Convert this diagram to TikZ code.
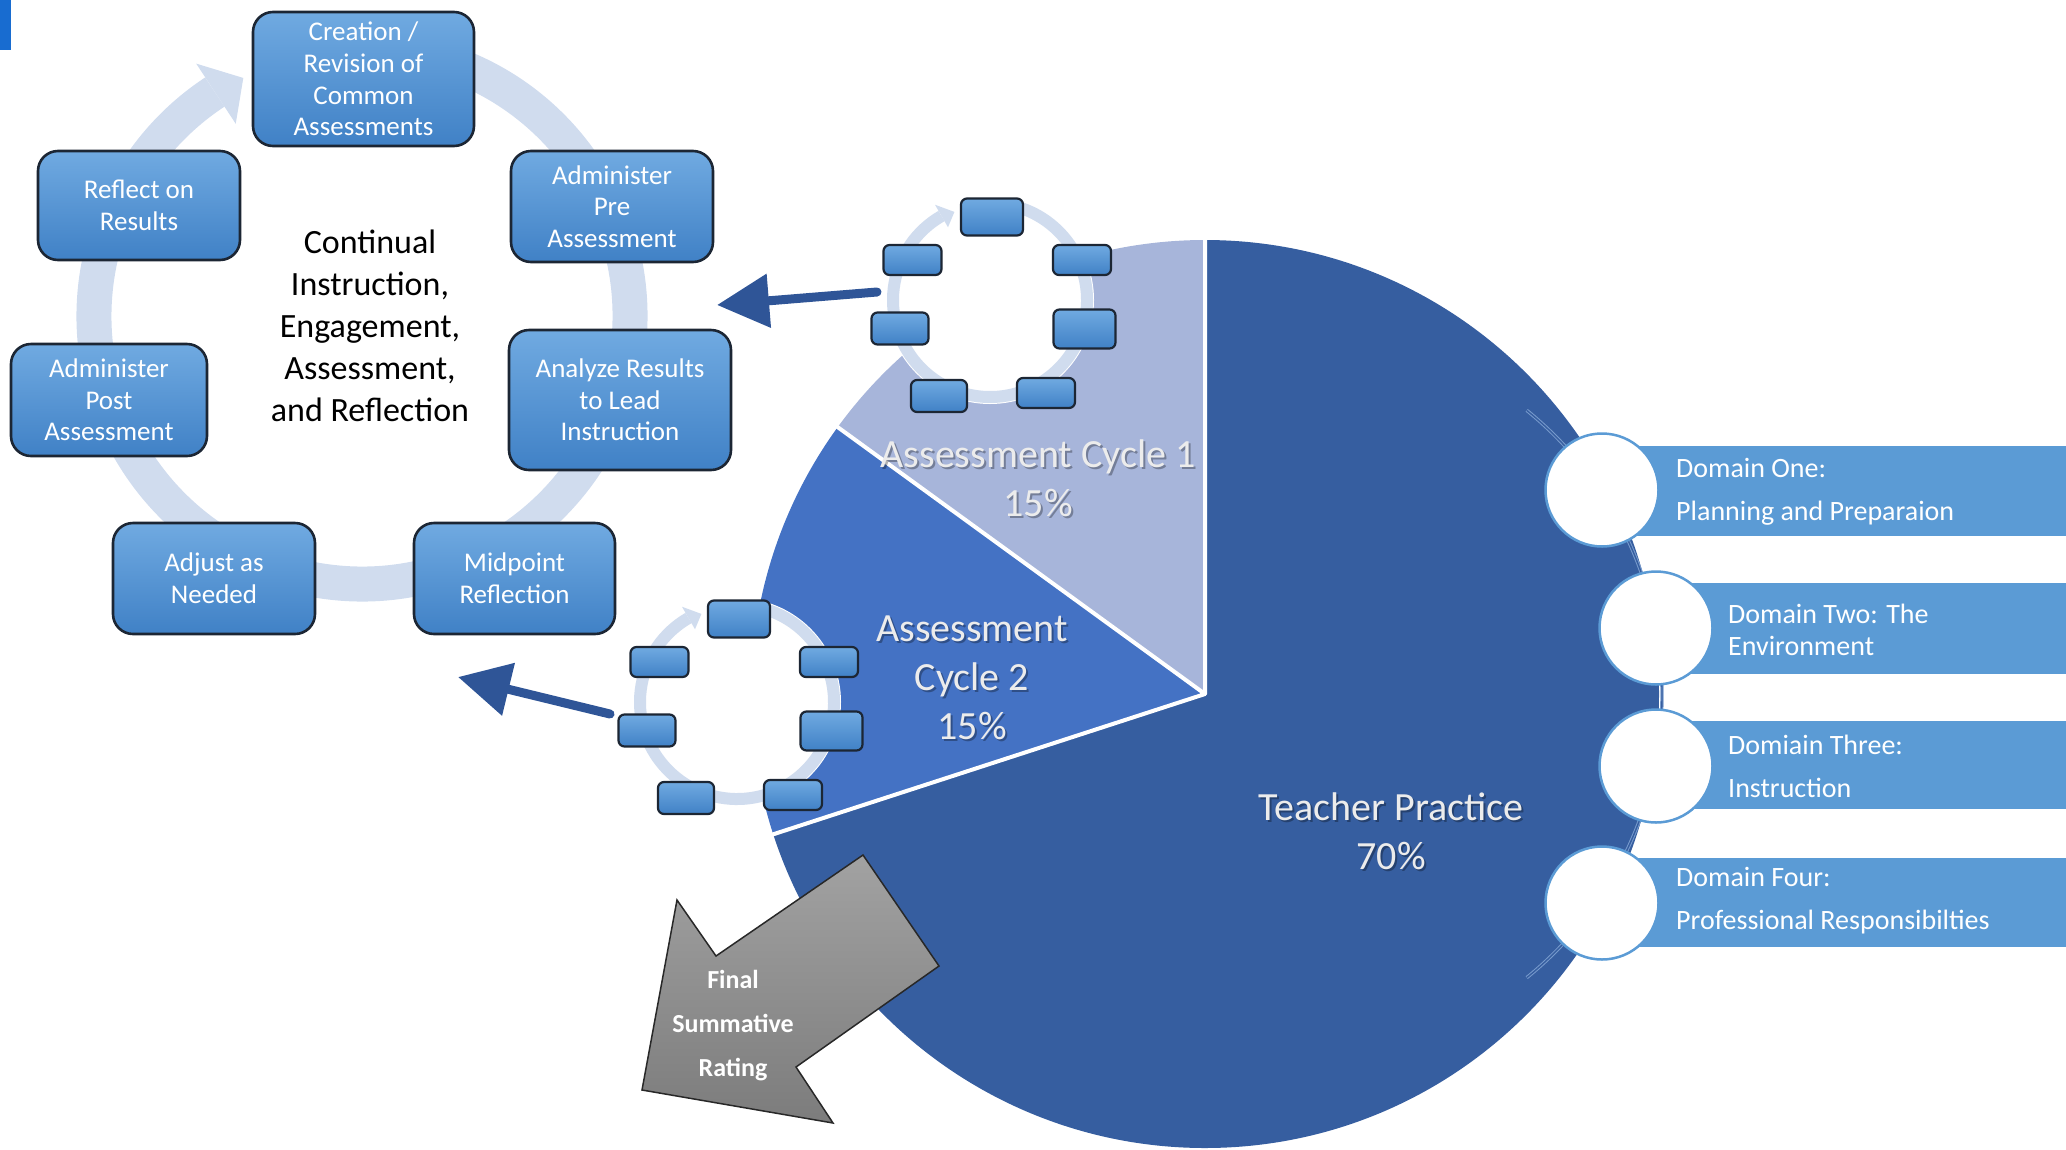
\documentclass[tikz,border=0pt]{standalone}
\usepackage{fontspec}
\setmainfont{Carlito}
\usetikzlibrary{calc,arrows.meta}
\definecolor{piedark}{RGB}{54,94,160}
\definecolor{piemid}{RGB}{68,114,196}
\definecolor{pielight}{RGB}{167,181,218}
\definecolor{boxtop}{RGB}{112,170,225}
\definecolor{boxbot}{RGB}{64,129,198}
\definecolor{boxline}{RGB}{28,38,52}
\definecolor{ringc}{RGB}{208,220,238}
\definecolor{arrowc}{RGB}{47,85,151}
\definecolor{barc}{RGB}{91,155,213}
\definecolor{pietext}{RGB}{236,236,236}
\definecolor{cornerblue}{RGB}{24,108,208}
\definecolor{graytop}{RGB}{162,162,162}
\definecolor{graybot}{RGB}{124,124,124}
\definecolor{grayline}{RGB}{40,40,40}
\definecolor{faintarc}{RGB}{120,155,205}
\begin{document}
\begin{tikzpicture}[x=1pt,y=-1pt,
  bigbox/.style={draw=boxline, line width=2.6pt, rounded corners=20pt, top color=boxtop, bottom color=boxbot, text=white, align=center, inner sep=0pt, font=\fontsize{27}{31.6}\selectfont},
  smallbox/.style={draw=boxline, line width=2.2pt, rounded corners=6pt, top color=boxtop, bottom color=boxbot, inner sep=0pt},
  pielabel/.style={text=pietext, align=center, font=\fontsize{40}{49}\selectfont},
  pieshadow/.style={text=black, opacity=0.3, align=center, font=\fontsize{40}{49}\selectfont},
  domaincircle/.style={circle, fill=white, draw=barc, line width=2.5pt, minimum size=113pt, inner sep=0pt},
  domaintext/.style={text=white, align=left, anchor=west, inner sep=0pt, font=\fontsize{28}{43}\selectfont},
  ringband/.style={draw=ringc, line width=35pt},
  smallring/.style={draw=ringc, line width=12pt},
  bigarrow/.style={draw=arrowc, line width=9pt, line cap=round, -{Triangle[length=52pt,width=52pt]}},
]
\useasboundingbox (0,0) rectangle (2066,1149);
\fill[cornerblue] (0,0) rectangle (10.5,50);

% big cycle ring
\coordinate (rc) at (362,316);
\draw[ringband] ($(rc)+(-80:268)$) arc[start angle=-80, end angle=236.7, radius=268];
\fill[ringc] ($(rc)+(236.7:230)$) -- ($(rc)+(243.5:266)$) -- ($(rc)+(236.7:302)$) -- cycle;

% big boxes
\node[bigbox, minimum width=221pt, minimum height=134pt] (create) at (363.5,79) {Creation /\\Revision of\\Common\\Assessments};
\node[bigbox, minimum width=202pt, minimum height=111pt] (pre) at (612,206.5) {Administer\\Pre\\Assessment};
\node[bigbox, minimum width=222pt, minimum height=140pt] (analyze) at (620,400) {Analyze Results\\to Lead\\Instruction};
\node[bigbox, minimum width=201pt, minimum height=111pt] (mid) at (514.5,578.5) {Midpoint\\Reflection};
\node[bigbox, minimum width=202pt, minimum height=111pt] (adjust) at (214,578.5) {Adjust as\\Needed};
\node[bigbox, minimum width=196pt, minimum height=112pt] (post) at (109,400) {Administer\\Post\\Assessment};
\node[bigbox, minimum width=202pt, minimum height=109pt] (reflect) at (139,205.5) {Reflect on\\Results};
\node[align=center, text=black, font=\fontsize{34}{42}\selectfont] (ctext) at (370,326) {Continual\\Instruction,\\Engagement,\\Assessment,\\and Reflection};

% pie
\coordinate (pc) at (1205,694);
\fill[piedark] (pc) -- ($(pc)+(-90:454)$) arc[start angle=-90, end angle=162, radius=454] -- cycle;
\fill[piemid] (pc) -- ($(pc)+(162:454)$) arc[start angle=162, end angle=216, radius=454] -- cycle;
\fill[pielight] (pc) -- ($(pc)+(216:454)$) arc[start angle=216, end angle=270, radius=454] -- cycle;
\draw[white, line width=4pt, line join=round] ($(pc)+(162:455)$) -- (pc) -- ($(pc)+(216:455)$) (pc) -- ($(pc)+(270:455)$);

% domain list
\coordinate (ac) at (1297,694);
\draw[draw=faintarc, line width=1pt, double=piedark, double distance=1.4pt] ($(ac)+(-51:365)$) arc[start angle=-51, end angle=51, radius=365];
\fill[barc] (1602,446) rectangle (2066,536);
\fill[barc] (1656,583) rectangle (2066,674);
\fill[barc] (1656,721) rectangle (2066,809);
\fill[barc] (1602,858) rectangle (2066,947);
\node[domaincircle] (d1c) at (1602,490) {};
\node[domaincircle] (d2c) at (1656,628) {};
\node[domaincircle] (d3c) at (1656,766) {};
\node[domaincircle] (d4c) at (1602,903) {};
\node[domaintext] (d1t) at (1676,492) {Domain One:\\Planning and Preparaion};
\node[domaintext, font=\fontsize{28}{32}\selectfont] (d2t) at (1728,630) {Domain Two: The\\Environment};
\node[domaintext] (d3t) at (1728,766) {Domiain Three:\\Instruction};
\node[domaintext] (d4t) at (1676,901) {Domain Four:\\Professional Responsibilties};

% small cycles
\foreach \cx/\cy/\nm in {990/300/sa, 737/702/sb} {
  \fill[white] (\cx,\cy) circle[radius=104];
  \draw[smallring] ($(\cx,\cy)+(-80:97)$) arc[start angle=-80, end angle=240, radius=97];
  \fill[ringc] ($(\cx,\cy)+(240:84)$) -- ($(\cx,\cy)+(248:95)$) -- ($(\cx,\cy)+(240:110)$) -- cycle;
  \node[smallbox, minimum width=62pt, minimum height=37pt] (\nm1) at (\cx+2,\cy-83) {};
  \node[smallbox, minimum width=58pt, minimum height=30pt] (\nm2) at (\cx-77.5,\cy-40) {};
  \node[smallbox, minimum width=58pt, minimum height=30pt] (\nm3) at (\cx+92,\cy-40) {};
  \node[smallbox, minimum width=57pt, minimum height=32pt] (\nm4) at (\cx-90,\cy+28.5) {};
  \node[smallbox, minimum width=62pt, minimum height=39pt] (\nm5) at (\cx+94.5,\cy+29) {};
  \node[smallbox, minimum width=56pt, minimum height=32pt] (\nm6) at (\cx-51,\cy+96) {};
  \node[smallbox, minimum width=58pt, minimum height=30pt] (\nm7) at (\cx+56,\cy+93) {};
}

% dark arrows
\coordinate (a1s) at (877,292);
\coordinate (a1t) at (717,305);
\coordinate (a2s) at (610,714);
\coordinate (a2t) at (458,677);
\draw[bigarrow] (a1s) -- (a1t);
\draw[bigarrow] (a2s) -- (a2t);

% final rating arrow
\path[draw=grayline, line width=1.5pt, line join=miter, top color=graytop, bottom color=graybot]
  (863,855) -- (939,966) -- (796,1067) -- (833,1123) -- (642,1090) -- (677,900) -- (716,956) -- cycle;
\node[text=white, align=center, font=\bfseries\fontsize{26}{44}\selectfont] (final) at (733,1026) {Final\\Summative\\Rating};

% pie labels
\node[pieshadow] (l1s) at (1040,480) {Assessment Cycle 1\\15\%};
\node[pielabel] (l1) at (1038,478) {Assessment Cycle 1\\15\%};
\node[pieshadow] (l2s) at (974,680) {Assessment\\Cycle 2\\15\%};
\node[pielabel] (l2) at (972,678) {Assessment\\Cycle 2\\15\%};
\node[pieshadow] (l3s) at (1393,833) {Teacher Practice\\70\%};
\node[pielabel] (l3) at (1391,831) {Teacher Practice\\70\%};
\end{tikzpicture}
\end{document}
